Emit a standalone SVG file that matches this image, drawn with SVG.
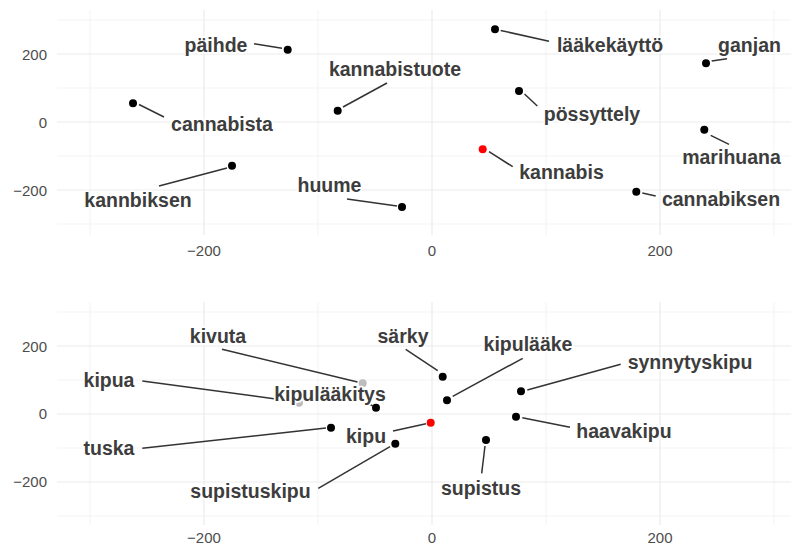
<svg xmlns="http://www.w3.org/2000/svg" width="796" height="547" viewBox="0 0 796 547">
<style>
.bg{fill:#ffffff}
.maj{stroke:#ebebeb;stroke-width:1.2;fill:none}
.min{stroke:#ebebeb;stroke-width:0.6;fill:none}
.tick{font-family:"Liberation Sans",Arial,sans-serif;font-size:15px;fill:#4d4d4d}
.ty{text-anchor:end}
.tx{text-anchor:middle}
.lbl{font-family:"Liberation Sans",Arial,sans-serif;font-weight:bold;font-size:19.5px;fill:#3d3d3d;text-anchor:middle;stroke:#ffffff;stroke-width:3.5;stroke-linejoin:round;paint-order:stroke}
.seg{stroke:#333333;stroke-width:1.5;fill:none}
.pt{fill:#000000}
.pg{fill:#bdbdbd}
.pr{fill:#ff0000}
</style>
<rect class="bg" x="0" y="0" width="796" height="547"/>
<g id="panel-top-grid">
<path class="min" d="M57 20H791M57 88H791M57 156H791M57 224H791M90 10V235M318 10V235M546 10V235M774 10V235"/>
<path class="maj" d="M57 54H791M57 122H791M57 190H791M204 10V235M432 10V235M660 10V235"/>
</g>
<g id="panel-bottom-grid">
<path class="min" d="M57 312H791M57 380H791M57 448H791M57 516H791M90 302V525M318 302V525M546 302V525M774 302V525"/>
<path class="maj" d="M57 346H791M57 414H791M57 482H791M204 302V525M432 302V525M660 302V525"/>
</g>
<g id="axes-top">
<text class="tick ty" x="47" y="59.5">200</text>
<text class="tick ty" x="47" y="127.5">0</text>
<text class="tick ty" x="47" y="195.5">−200</text>
<text class="tick tx" x="204" y="256">−200</text>
<text class="tick tx" x="432" y="256">0</text>
<text class="tick tx" x="660" y="256">200</text>
</g>
<g id="axes-bottom">
<text class="tick ty" x="47" y="351.5">200</text>
<text class="tick ty" x="47" y="419">0</text>
<text class="tick ty" x="47" y="486.5">−200</text>
<text class="tick tx" x="204" y="543">−200</text>
<text class="tick tx" x="432" y="543">0</text>
<text class="tick tx" x="660" y="543">200</text>
</g>
<g id="points">
<circle class="pt" cx="287.7" cy="49.7" r="4"/>
<circle class="pt" cx="133" cy="103.3" r="4"/>
<circle class="pt" cx="337.7" cy="110.7" r="4"/>
<circle class="pt" cx="232" cy="165.7" r="4"/>
<circle class="pt" cx="402" cy="207" r="4"/>
<circle class="pt" cx="495" cy="29.3" r="4"/>
<circle class="pt" cx="706" cy="63.3" r="4"/>
<circle class="pt" cx="519" cy="91" r="4"/>
<circle class="pt" cx="704.3" cy="129.7" r="4"/>
<circle class="pr" cx="482.7" cy="149.3" r="4"/>
<circle class="pt" cx="636.3" cy="191.7" r="4"/>
<circle class="pg" cx="362.7" cy="383.3" r="4"/>
<circle class="pg" cx="299" cy="402.7" r="4"/>
<circle class="pt" cx="376" cy="407.7" r="4"/>
<circle class="pt" cx="331" cy="427.7" r="4"/>
<circle class="pr" cx="430.7" cy="422.7" r="4"/>
<circle class="pt" cx="395.3" cy="443.7" r="4"/>
<circle class="pt" cx="442.7" cy="376.7" r="4"/>
<circle class="pt" cx="447" cy="400.3" r="4"/>
<circle class="pt" cx="521" cy="391.3" r="4"/>
<circle class="pt" cx="516" cy="416.7" r="4"/>
<circle class="pt" cx="486" cy="440" r="4"/>
</g>
<g id="connectors">
<path class="seg" d="M254 43.7L282 48.3"/>
<path class="seg" d="M139 104.5L164 117"/>
<path class="seg" d="M343 107L387 83"/>
<path class="seg" d="M159 186L227 168"/>
<path class="seg" d="M347 199L397 206"/>
<path class="seg" d="M500.7 30.5L549 41.3"/>
<path class="seg" d="M711.7 61L727 58.7"/>
<path class="seg" d="M524.5 94L537.3 106"/>
<path class="seg" d="M710.7 135.3L729 144.3"/>
<path class="seg" d="M489 151.7L512.7 166.7"/>
<path class="seg" d="M642.3 193L655.7 196"/>
<path class="seg" d="M222 349.3L357.5 382"/>
<path class="seg" d="M142.3 381L294 401.5"/>
<path class="seg" d="M369 404L373 406"/>
<path class="seg" d="M142.3 448.3L326 428"/>
<path class="seg" d="M393 431L426 423.7"/>
<path class="seg" d="M318.3 488.3L390 446.7"/>
<path class="seg" d="M405.7 349.3L437.7 370.7"/>
<path class="seg" d="M522.7 358.3L452.7 396.3"/>
<path class="seg" d="M527.3 390L620.7 364.3"/>
<path class="seg" d="M522.3 417.7L570 427.3"/>
<path class="seg" d="M485 446L481.7 473.3"/>
</g>
<g id="node-paihde"><text class="lbl" x="216" y="52.3">päihde</text></g>
<g id="node-cannabista"><text class="lbl" x="222" y="130.7">cannabista</text></g>
<g id="node-kannabistuote"><text class="lbl" x="395" y="76">kannabistuote</text></g>
<g id="node-kannbiksen"><text class="lbl" x="138" y="206.7">kannbiksen</text></g>
<g id="node-huume"><text class="lbl" x="329.5" y="192.3">huume</text></g>
<g id="node-laakekaytto"><text class="lbl" x="610" y="52.3">lääkekäyttö</text></g>
<g id="node-ganjan"><text class="lbl" x="749.5" y="52.3">ganjan</text></g>
<g id="node-possyttely"><text class="lbl" x="592" y="120.7">pössyttely</text></g>
<g id="node-marihuana"><text class="lbl" x="731.5" y="164.3">marihuana</text></g>
<g id="node-kannabis"><text class="lbl" x="561.5" y="179.3">kannabis</text></g>
<g id="node-cannabiksen"><text class="lbl" x="721" y="206">cannabiksen</text></g>
<g id="node-kivuta"><text class="lbl" x="218" y="343.3">kivuta</text></g>
<g id="node-kipua"><text class="lbl" x="109" y="387.3">kipua</text></g>
<g id="node-kipulaakitys"><text class="lbl" x="330" y="400.7">kipulääkitys</text></g>
<g id="node-tuska"><text class="lbl" x="109" y="455">tuska</text></g>
<g id="node-kipu"><text class="lbl" x="366" y="442.7">kipu</text></g>
<g id="node-supistuskipu"><text class="lbl" x="250.5" y="498.3">supistuskipu</text></g>
<g id="node-sarky"><text class="lbl" x="403" y="342.7">särky</text></g>
<g id="node-kipulaake"><text class="lbl" x="528" y="350.7">kipulääke</text></g>
<g id="node-synnytyskipu"><text class="lbl" x="690" y="369.3">synnytyskipu</text></g>
<g id="node-haavakipu"><text class="lbl" x="624" y="437.7">haavakipu</text></g>
<g id="node-supistus"><text class="lbl" x="481" y="495">supistus</text></g>
</svg>
